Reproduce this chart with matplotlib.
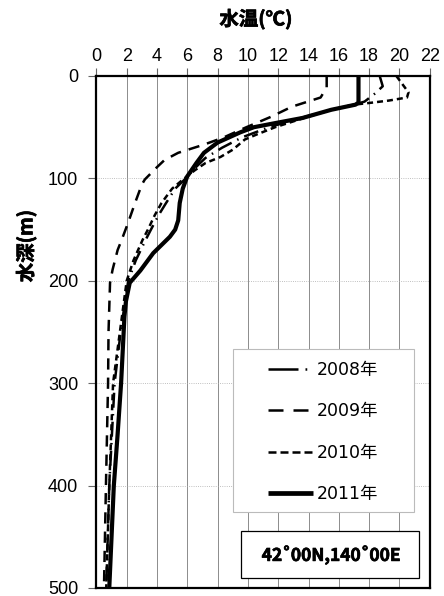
import matplotlib
matplotlib.use("Agg")
import matplotlib.pyplot as plt
from matplotlib.lines import Line2D
from matplotlib.patches import Rectangle
import matplotlib.patheffects as pe

# ---- data ----
depth_2008 = [0, 10, 17, 25, 28, 33, 41, 50, 60, 70, 80, 90, 100, 110, 124, 136, 150, 160, 180, 200, 250, 300, 400, 500]
temp_2008 = [18.7, 18.9, 18.4, 17.7, 17.0, 15.5, 13.5, 11.4, 9.6, 8.3, 7.2, 6.5, 5.9, 5.2, 4.6, 4.1, 3.6, 3.25, 2.6, 2.1, 1.6, 1.2, 0.85, 0.65]

depth_2009 = [0, 11, 21, 30, 40, 50, 60, 67, 75, 82, 89, 101, 106, 124, 143, 160, 170, 189, 202, 250, 300, 400, 500]
temp_2009 = [15.2, 15.2, 14.8, 12.9, 11.5, 9.9, 8.4, 7.1, 5.4, 4.5, 4.0, 3.2, 3.0, 2.55, 2.1, 1.67, 1.4, 1.07, 0.9, 0.8, 0.77, 0.63, 0.5]

depth_2010 = [0, 8, 16, 21, 24, 26, 28, 33, 41, 50, 57, 62, 72, 79, 85, 92, 100, 110, 124, 136, 150, 160, 180, 200, 250, 300, 400, 500]
temp_2010 = [19.8, 20.2, 20.6, 20.5, 19.3, 18.2, 17.0, 15.5, 13.7, 11.8, 10.6, 9.8, 9.0, 8.2, 7.2, 6.5, 5.8, 5.0, 4.3, 3.85, 3.4, 3.05, 2.45, 2.0, 1.55, 1.1, 0.85, 0.65]

depth_2011 = [0, 26, 28, 33, 41, 46, 50, 55, 65, 75, 85, 98, 110, 124, 141, 150, 157, 165, 173, 182, 190, 202, 220, 235, 250, 300, 350, 400, 450, 500]
temp_2011 = [17.3, 17.3, 17.1, 15.5, 13.6, 11.8, 10.4, 9.5, 8.0, 7.1, 6.6, 6.0, 5.7, 5.5, 5.4, 5.2, 4.85, 4.3, 3.75, 3.3, 2.9, 2.2, 1.95, 1.85, 1.8, 1.63, 1.4, 1.15, 1.0, 0.85]

labels = ["2008年", "2009年", "2010年", "2011年"]
x_ticks = list(range(0, 23, 2))
y_ticks = [0, 100, 200, 300, 400, 500]
title_text = "水温(℃)"
ylabel_text = "水深(m)"
location_text = "42˚00N,140˚00E"

plt.rcParams['font.family'] = ['Liberation Sans', 'Noto Sans CJK JP', 'DejaVu Sans']

W, H = 444, 596
L, R, T, B = 96.4, 429.7, 76, 588
fig = plt.figure(figsize=(W/100, H/100), dpi=100)
ax = fig.add_axes([L/W, 1-B/H, (R-L)/W, (B-T)/H])

def ax_x(px):
    return (px - L) / (R - L)

def ax_y(py):
    return 1 - (py - T) / (B - T)

styles = [dict(lw=1.8, dashes=(6, 2.5, 0.6, 2.5)),
          dict(lw=1.8, dashes=(4.5, 3.2)),
          dict(lw=1.8, dashes=(2.4, 1.6)),
          dict(lw=3.0)]
series = [(temp_2008, depth_2008), (temp_2009, depth_2009),
          (temp_2010, depth_2010), (temp_2011, depth_2011)]
for (t, d), st in zip(series, styles):
    ax.plot(t, d, color='black', solid_capstyle='butt', zorder=2, **st)

ax.set_xlim(0, 22)
ax.set_ylim(500, 0)
ax.xaxis.tick_top()
ax.set_xticks(x_ticks)
ax.set_yticks(y_ticks)
ax.tick_params(axis='both', labelsize=13, direction='out', length=6, width=0.8, color='#666666')
ax.tick_params(axis='x', pad=2)
ax.tick_params(axis='y', pad=7)

ax.grid(axis='x', color='#8c8c8c', lw=0.7, ls='-')
ax.grid(axis='y', color='#aaaaaa', lw=0.6, ls=':')
ax.set_axisbelow(True)

for s in ax.spines.values():
    s.set_linewidth(1.6)
    s.set_color('black')
    s.set_zorder(6)

bold = [pe.withStroke(linewidth=0.5, foreground='black')]
fig.text(256/W, 1-19/H, title_text, ha='center', va='center', fontsize=14,
         fontweight='bold', family=['Noto Sans CJK JP', 'DejaVu Sans'], path_effects=bold)
fig.text(26/W, 1-246/H, ylabel_text, ha='center', va='center', fontsize=14,
         fontweight='bold', rotation=90, family=['Noto Sans CJK JP', 'DejaVu Sans'], path_effects=bold)

# legend frame drawn manually
ax.add_patch(Rectangle((ax_x(233), ax_y(512)), ax_x(414) - ax_x(233), ax_y(349) - ax_y(512),
                       transform=ax.transAxes, facecolor='white', edgecolor='#bbbbbb',
                       lw=0.8, zorder=3))
handles = [Line2D([], [], color='black', lw=1.8, dashes=(12, 2.8, 0.7, 10)),
           Line2D([], [], color='black', lw=1.8, dashes=(6, 4)),
           Line2D([], [], color='black', lw=1.8, dashes=(3.2, 1.6)),
           Line2D([], [], color='black', lw=3.4, solid_capstyle='butt')]
leg = ax.legend(handles, labels, loc='upper left',
                bbox_to_anchor=(ax_x(268), ax_y(361)),
                prop={'family': ['DejaVu Sans', 'Noto Sans CJK JP'], 'size': 12.5},
                frameon=False, handlelength=2.6, handletextpad=0.18,
                labelspacing=1.35, borderpad=0, borderaxespad=0)
leg.set_zorder(4)

# location box
ax.add_patch(Rectangle((ax_x(241), ax_y(578)), ax_x(419) - ax_x(241), ax_y(531) - ax_y(578),
                       transform=ax.transAxes, facecolor='white', edgecolor='black',
                       lw=0.9, zorder=3))
ax.text(ax_x(331), ax_y(555), location_text, transform=ax.transAxes,
        ha='center', va='center', fontsize=12.5, fontweight='bold', zorder=4,
        family=['Noto Sans CJK JP', 'DejaVu Sans'], path_effects=bold)

fig.savefig('out.png', dpi=100)
